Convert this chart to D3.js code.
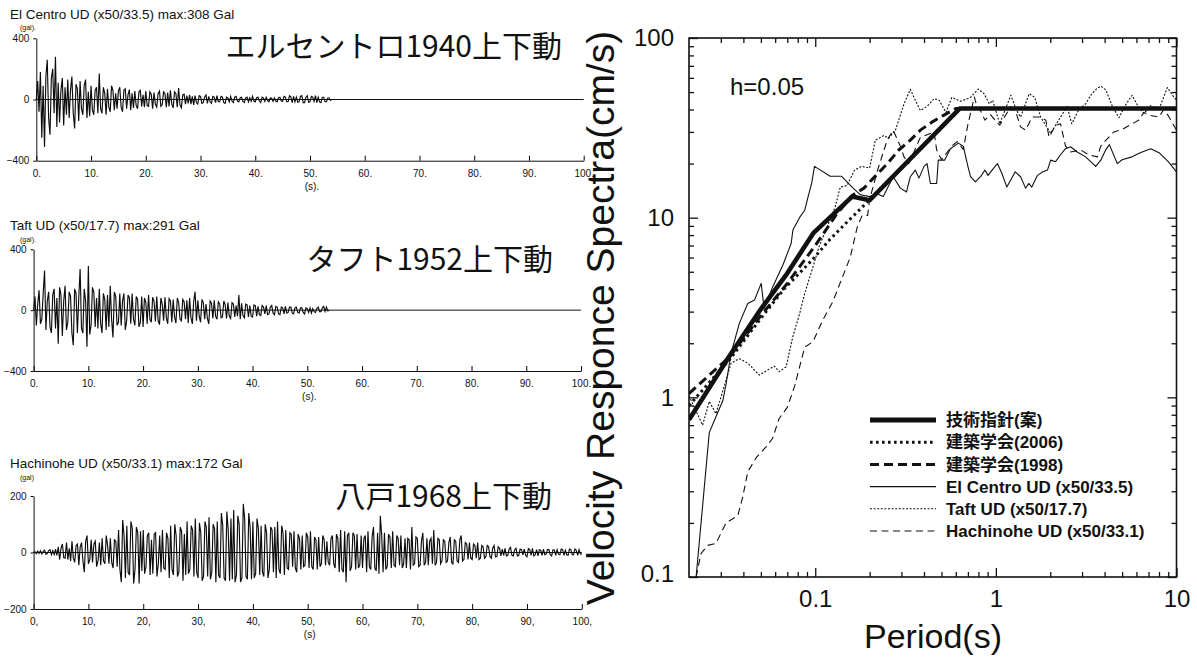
<!DOCTYPE html>
<html>
<head>
<meta charset="utf-8">
<script src="https://cdn.jsdelivr.net/npm/d3@7"></script>
<style>
body { margin: 0; background: #fff; }
svg text { font-family: "Liberation Sans", Arial, "Noto Sans CJK JP", sans-serif; fill: #111; }
</style>
</head>
<body>
<svg id="chart"></svg>
<script>
// page size
var width = 1197, height = 659;

// ---- acceleration records, sampled every 0.25 s (gal), one row = 4 s ----
var waveDt = 0.25;
var elcentroAcc = [
  0,120,-80,180,-250,90,-310,150,260,-120,-230,140,200,-90,280,-180,
  110,-150,60,140,-170,80,-100,130,-120,60,150,-90,-190,100,70,-140,
  120,-60,-100,90,130,-120,50,-110,90,-70,-100,60,80,-90,170,-60,
  -90,80,40,-100,70,-50,-80,90,60,-70,40,-60,55,80,-50,-80,
  60,70,-60,30,65,-70,40,-55,55,-40,-60,50,60,-45,30,-50,
  55,-40,-45,50,35,-60,45,-30,-50,40,55,-45,-35,50,40,-50,
  45,-45,60,-30,-55,50,40,-50,75,-35,-55,30,35,-30,25,-25,
  30,-30,20,-35,25,-20,-30,25,20,-25,-20,15,30,-25,20,-15,
  -25,20,15,-20,25,-15,-15,20,15,-20,-25,15,10,-15,20,-10,
  -20,15,20,-10,-15,12,15,-12,-20,10,15,-15,10,-12,20,-10,
  -15,12,15,-10,-20,15,10,-12,15,-8,-15,10,8,-12,10,-10,
  -15,12,15,-10,-12,20,15,-15,-15,25,18,-20,20,-15,15,-18,
  -15,20,25,-20,-20,15,25,-18,-15,20,15,-12,25,-20,15,-15,
  -20,15,15,-15,-15,10,10,-5,0];
var taftAcc = [
  0,90,-100,40,130,-90,-60,110,260,-130,60,120,-110,-150,100,140,
  -120,80,-220,150,100,-170,60,160,-130,-80,120,90,-150,-230,140,110,
  -150,80,270,-120,-150,140,60,-240,290,-160,-100,150,120,-110,80,-120,
  140,-90,-150,110,70,-130,100,-110,160,-60,-180,120,90,-100,-80,110,
  -100,60,110,-130,-70,100,80,-90,110,-60,-100,90,70,-110,-80,90,
  -110,80,50,-90,100,-60,-80,85,60,-75,90,-70,-95,80,40,-70,
  85,-50,-90,75,60,-80,70,-45,-85,80,50,-60,-70,70,55,-60,
  65,-85,80,-50,-90,60,120,-70,65,-40,-80,70,50,-60,40,-55,
  -90,60,45,-55,65,-40,-60,55,40,-50,-45,60,35,-55,50,-40,
  -55,50,40,-45,30,-40,100,-60,45,-35,-50,40,35,-45,30,-40,
  -45,35,30,-40,25,-30,-35,30,20,-25,30,-30,-25,20,30,-20,
  -30,25,20,-25,-30,20,15,-25,25,-20,-15,20,20,-20,-25,15,
  20,-15,-20,15,15,-15,-25,15,10,-15,15,-20,10,-10,-15,10,
  20,-10,-10,15,25,-8,20,-5,0];
var hachinoheAcc = [
  0,3,-4,5,-3,6,-5,4,8,-6,-4,7,10,-8,6,-7,
  12,-10,20,-25,15,30,-18,-20,35,-25,15,-30,40,-20,-35,25,
  30,-45,20,35,-30,-70,40,60,-40,-25,45,-35,30,40,-50,-30,
  35,-45,50,-30,-40,60,25,-40,50,-35,-55,45,40,-50,80,-60,
  -105,115,60,-90,95,-70,-80,110,85,-110,-60,90,70,-110,75,-65,
  80,-75,-50,60,70,-80,45,-75,65,70,-85,-40,60,-70,80,-55,
  -60,70,50,-90,95,-60,-80,100,60,-85,-70,90,75,-100,65,-80,
  110,-75,-60,95,80,-85,120,-70,-90,105,70,-100,-85,110,90,-85,
  125,-95,-70,100,85,-105,110,-80,-90,140,95,-90,-100,145,80,-100,
  120,-95,150,-105,-80,130,100,-105,-90,172,120,-85,-95,140,90,-95,
  110,-90,-75,120,85,-80,95,-70,-85,100,70,-90,-60,90,80,-70,
  90,-90,110,-60,-75,95,70,-80,80,-55,-60,70,65,-50,75,-55,
  -70,65,50,-60,60,-50,-45,70,55,-55,75,-50,-60,55,45,-60,
  55,-50,-40,60,45,-45,40,-35,-45,50,60,-40,-55,65,50,-70,
  80,-60,-70,75,-105,60,70,-65,-50,70,60,-60,65,-55,-45,60,
  -55,50,60,-70,75,-50,-60,55,90,-55,-65,70,-75,130,60,-70,
  70,-60,-50,65,55,-55,75,-45,-50,60,50,-45,60,-55,-40,50,
  -55,50,45,-60,90,-45,-40,55,50,-50,-45,40,70,-45,-35,50,
  -45,40,50,-40,80,-45,-35,50,45,-40,-30,45,40,-35,-30,35,
  55,-35,-40,45,40,-30,-35,45,60,-30,-25,35,30,-25,35,-20,
  -25,30,25,-20,35,-25,-20,25,20,-20,-15,25,20,-15,-20,15,
  25,-15,-15,20,15,-12,12,-10,15,-12,-10,12,18,-10,-12,10,
  15,-12,-10,12,10,-8,12,-10,-15,14,10,-10,15,-12,-8,10,
  -12,10,8,-10,12,-8,-6,10,10,-8,-12,10,8,-10,10,-6,
  -8,12,10,-10,8,-8,-10,12,10,-8,-8,12,8,-10,10,-6,
  -5];
var timeTicks = [0,10,20,30,40,50,60,70,80,90,100];

// ---- velocity response spectra, h=0.05: [period (s), Sv (cm/s)] ----
var guideSpec = [[0.02,0.75],[0.0335,1.7],[0.05,3.1],[0.07,4.9],[0.0975,8.2],[0.16,13.1],[0.2,12.5],[0.63,40.5],[10,40.5]];
var aij2006Spec = [[0.02,0.9],[0.0335,1.62],[0.05,2.75],[0.067,4.0],[0.0975,5.9],[0.121,7.6],[0.146,9.2],[0.178,11.2],[0.2,12.6],[0.63,40.5],[10,40.5]];
var aij1998Spec = [[0.02,1.05],[0.0335,1.68],[0.05,2.85],[0.07,4.3],[0.1,7.0],[0.13,10.3],[0.16,13.3],[0.186,14.6],[0.217,17.2],[0.253,20.2],[0.29,23.8],[0.336,27],[0.382,30.7],[0.44,33.9],[0.51,37],[0.6,40.5],[10,40.5]];
var elcentroSpec = [[0.0219,0.1],[0.0259,0.636],[0.0282,0.78],[0.0308,0.96],[0.0321,1.19],[0.0342,1.76],[0.038,2.58],[0.0423,3.33],[0.0461,3.48],[0.0502,4.31],[0.0521,3.13],[0.0582,4.13],[0.0662,5.45],[0.0736,7.2],[0.0752,8.53],[0.0818,10.0],[0.0875,11],[0.0913,13.1],[0.0955,15.5],[0.099,19.3],[0.121,17],[0.14,17],[0.162,14.6],[0.178,13.4],[0.2,13.1],[0.22,13.6],[0.238,13.1],[0.27,16.9],[0.296,14.6],[0.32,13.9],[0.336,16.9],[0.358,18.4],[0.375,16.6],[0.4,19.3],[0.416,20],[0.434,15.5],[0.47,15.5],[0.48,20.9],[0.52,20.9],[0.56,24.2],[0.62,26],[0.66,25],[0.7,19.3],[0.724,16.9],[0.77,15.8],[0.822,16.9],[0.87,18.4],[0.905,17.2],[0.965,18.7],[1.02,20],[1.08,17.6],[1.15,14.8],[1.28,18],[1.37,16.9],[1.46,14.6],[1.52,15.5],[1.58,14.8],[1.7,17.2],[1.82,18],[1.93,18.4],[2.01,20.9],[2.14,20.5],[2.28,22.4],[2.43,24.2],[2.59,24.8],[2.82,23.2],[3.14,21.8],[3.57,19.3],[3.81,20.9],[4.07,24],[4.25,25.5],[4.7,20],[5.0,21],[5.67,21.8],[6.3,23],[7.2,24.2],[8.0,23],[9.0,20.5],[10,18]];
var taftSpec = [[0.02,1.02],[0.0238,0.70],[0.0259,0.95],[0.0282,0.81],[0.0321,1.25],[0.0342,1.55],[0.038,1.64],[0.0423,1.55],[0.049,1.33],[0.0546,1.42],[0.0594,1.49],[0.0632,1.39],[0.069,1.48],[0.075,2.16],[0.082,2.93],[0.0874,3.78],[0.097,5.3],[0.105,6.9],[0.129,11.5],[0.1376,14.8],[0.15,15.1],[0.165,18.4],[0.18,19.3],[0.2,18.9],[0.215,27],[0.24,28.7],[0.255,27.7],[0.278,30.7],[0.31,43],[0.336,51.8],[0.358,45],[0.382,39.5],[0.416,41.6],[0.455,46],[0.485,45],[0.53,38.5],[0.57,46.7],[0.637,44.5],[0.724,46.7],[0.8,52],[0.86,49],[0.92,43],[0.96,45],[1.05,33.3],[1.21,48],[1.3,39.7],[1.37,36.3],[1.53,49],[1.64,46.7],[1.77,36.3],[2.01,29.5],[2.14,32.7],[2.48,41.6],[2.63,33.3],[2.87,39.7],[3.14,43],[3.4,49],[3.6,52],[3.81,54],[4.07,51.3],[4.4,42],[4.8,36],[5.2,42],[5.67,48],[6.1,42],[6.6,38],[7.2,42],[8.0,40],[8.9,53],[9.5,48],[10,45]];
var hachinoheSpec = [[0.0219,0.1],[0.0233,0.135],[0.0254,0.15],[0.0282,0.154],[0.0321,0.2],[0.0373,0.22],[0.0397,0.28],[0.0423,0.385],[0.047,0.46],[0.0534,0.53],[0.058,0.59],[0.063,0.76],[0.07,0.88],[0.0768,1.15],[0.0874,1.9],[0.0971,2.04],[0.11,2.69],[0.125,3.4],[0.156,6.0],[0.171,8.9],[0.182,10.3],[0.195,10.3],[0.2,12.6],[0.22,18],[0.25,27],[0.27,30.7],[0.296,25],[0.31,21.8],[0.33,20],[0.382,28],[0.455,30],[0.47,23.8],[0.5,21],[0.57,25],[0.61,26.5],[0.66,24],[0.7,33],[0.76,47],[0.79,40.5],[0.822,39.5],[0.87,34.9],[0.934,37.5],[0.99,34.9],[1.05,32.7],[1.206,41.5],[1.28,39.7],[1.37,32],[1.46,30.7],[1.59,36.3],[1.77,36.3],[1.89,34.9],[1.97,28],[2.14,32.7],[2.28,33.3],[2.43,25],[2.59,23.2],[2.95,23.8],[3.27,22.4],[3.64,21.8],[3.81,25],[4.07,27],[4.5,30],[5.0,31],[5.6,33],[6.2,35],[6.6,38.5],[7.2,37],[8,36.3],[8.5,40],[9.0,37],[10,30.7]];
var legendLabels = ["技術指針(案)", "建築学会(2006)", "建築学会(1998)", "El Centro UD (x50/33.5)", "Taft UD (x50/17.7)", "Hachinohe UD (x50/33.1)"];
var periodTicks = [0.1, 1, 10];
var svTicks = [0.1, 1, 10, 100];

var svg = d3.select("#chart")
    .attr("width", width)
    .attr("height", height)
    .attr("viewBox", [0, 0, width, height]);

// ---------- left: three time histories ----------
var panels = [
    {wave: elcentroAcc, lim: 400, title: "El Centro UD (x50/33.5) max:308 Gal", jp: "エルセントロ1940上下動",
     unit: "(gal).", sLab: "(s).", suffix: ".", left: 36.3, right: 583.7, top: 38.3, bottom: 160.7,
     titleY: 19, unitY: 30, jpX: 562, jpY: 57},
    {wave: taftAcc, lim: 400, title: "Taft UD (x50/17.7) max:291 Gal", jp: "タフト1952上下動",
     unit: "(gal).", sLab: "(s).", suffix: ".", left: 33.6, right: 581, top: 249.3, bottom: 371,
     titleY: 230, unitY: 242, jpX: 553, jpY: 270},
    {wave: hachinoheAcc, lim: 200, title: "Hachinohe UD (x50/33.1) max:172 Gal", jp: "八戸1968上下動",
     unit: "(gal)", sLab: "(s)", suffix: ",", left: 33.6, right: 581.8, top: 496, bottom: 609,
     titleY: 468, unitY: 480, jpX: 552, jpY: 507}
];

panels.forEach(function(p) {
    var x = d3.scaleLinear().domain([0, 100]).range([p.left, p.right]);
    var y = d3.scaleLinear().domain([-p.lim, p.lim]).range([p.bottom, p.top]);
    var g = svg.append("g");

    // zero line across the whole record length
    g.append("line")
        .attr("x1", x(0)).attr("x2", x(100))
        .attr("y1", y(0)).attr("y2", y(0))
        .attr("stroke", "#111").attr("stroke-width", 1);

    var line = d3.line()
        .x(function(d, i) { return x(i * waveDt); })
        .y(function(d) { return y(d); });

    g.append("path")
        .datum(p.wave)
        .attr("d", line)
        .attr("fill", "none")
        .attr("stroke", "#0d0d0d")
        .attr("stroke-width", 1.15);

    var xa = g.append("g")
        .attr("transform", "translate(0," + p.bottom + ")")
        .call(d3.axisBottom(x).tickValues(timeTicks).tickSize(-5).tickSizeOuter(0).tickPadding(9)
            .tickFormat(function(d) { return d + p.suffix; }));
    xa.selectAll("text").attr("font-size", 10).attr("font-family", "Liberation Sans, Arial").attr("fill", "#222");

    var ya = g.append("g")
        .attr("transform", "translate(" + p.left + ",0)")
        .call(d3.axisLeft(y).tickValues([-p.lim, 0, p.lim]).tickSize(3).tickSizeOuter(0).tickPadding(4));
    ya.selectAll("text").attr("font-size", 10).attr("font-family", "Liberation Sans, Arial").attr("fill", "#222");
    g.selectAll(".domain").attr("stroke", "#111");

    g.append("text").attr("x", 10).attr("y", p.titleY)
        .attr("font-size", 13.5).attr("fill", "#222").text(p.title);
    g.append("text").attr("x", 20).attr("y", p.unitY)
        .attr("font-size", 7).attr("fill", "#333").text(p.unit);
    g.append("text").attr("x", x(50) + 2).attr("y", p.bottom + 29)
        .attr("text-anchor", "middle").attr("font-size", 10).attr("fill", "#222").text(p.sLab);
    g.append("text").attr("x", p.jpX).attr("y", p.jpY)
        .attr("text-anchor", "end")
        .style("font-family", "'Noto Sans CJK JP', sans-serif")
        .attr("font-size", 30).attr("fill", "#1a1a1a").text(p.jp);
});

// ---------- right: velocity response spectra ----------
var xS = d3.scaleLog().domain([0.02, 10]).range([689, 1176.5]);
var yS = d3.scaleLog().domain([0.1, 100]).range([577, 38]);

var xMinor = [], yMinor = [];
[0.01, 0.1, 1].forEach(function(dec) {
    for (var k = 2; k <= 9; k++) {
        var v = +(dec * k).toPrecision(3);
        if (v > 0.0201 && v < 10) xMinor.push(v);
    }
});
[0.1, 1, 10].forEach(function(dec) {
    for (var k = 2; k <= 9; k++) yMinor.push(+(dec * k).toPrecision(3));
});

var rp = svg.append("g");

svg.append("clipPath").attr("id", "plotclip")
    .append("rect").attr("x", 689).attr("y", 38).attr("width", 1176.5 - 689).attr("height", 577 - 38);

function tickAxis(axis, vals, size, tr, label) {
    var a = rp.append("g").attr("transform", tr)
        .call(axis.tickValues(vals).tickSize(-size).tickSizeOuter(0)
            .tickPadding(label ? 13 : 0).tickFormat(label ? function(d) { return d; } : ""));
    a.select(".domain").remove();
    a.selectAll("line").attr("stroke", "#111").attr("stroke-width", 1.3);
    return a;
}
var xb = tickAxis(d3.axisBottom(xS), periodTicks, 9, "translate(0,577)", true);
tickAxis(d3.axisBottom(xS), xMinor, 5, "translate(0,577)", false);
tickAxis(d3.axisTop(xS), periodTicks, 9, "translate(0,38)", false);
tickAxis(d3.axisTop(xS), xMinor, 5, "translate(0,38)", false);
var yl = tickAxis(d3.axisLeft(yS), svTicks, 9, "translate(689,0)", true);
tickAxis(d3.axisLeft(yS), yMinor, 5, "translate(689,0)", false);
tickAxis(d3.axisRight(yS), svTicks, 9, "translate(1176.5,0)", false);
tickAxis(d3.axisRight(yS), yMinor, 5, "translate(1176.5,0)", false);
xb.selectAll("text").attr("font-size", 24).attr("font-family", "Liberation Sans, Arial").attr("fill", "#111");
yl.selectAll("text").attr("font-size", 24).attr("font-family", "Liberation Sans, Arial").attr("fill", "#111").attr("dx", -2);
yl.select(".tick text").attr("dy", "0.2em");

rp.append("rect")
    .attr("x", 689).attr("y", 38)
    .attr("width", 1176.5 - 689).attr("height", 577 - 38)
    .attr("fill", "none").attr("stroke", "#111").attr("stroke-width", 1.6);

var specLine = d3.line()
    .x(function(d) { return xS(d[0]); })
    .y(function(d) { return yS(d[1]); });

// style for each curve, same order as legendLabels
var specStyles = [
    {data: guideSpec, w: 4.6, dash: null},
    {data: aij2006Spec, w: 3, dash: "2.6,3.4"},
    {data: aij1998Spec, w: 3, dash: "9,5"},
    {data: elcentroSpec, w: 1.1, dash: null},
    {data: taftSpec, w: 1.1, dash: "2,1.6"},
    {data: hachinoheSpec, w: 1.1, dash: "7,4.5"}
];

var curves = rp.append("g").attr("clip-path", "url(#plotclip)");
[3, 4, 5, 2, 1, 0].forEach(function(i) {
    var s = specStyles[i];
    curves.append("path")
        .datum(s.data)
        .attr("d", specLine)
        .attr("fill", "none")
        .attr("stroke", "#111")
        .attr("stroke-width", s.w)
        .attr("stroke-linejoin", "round")
        .attr("stroke-dasharray", s.dash);
});

rp.append("text").attr("x", 730).attr("y", 95)
    .attr("font-size", 24).attr("fill", "#111").text("h=0.05");

// legend
var legend = rp.append("g");
legendLabels.forEach(function(name, i) {
    var ly = 420 + i * 22.2;
    var s = specStyles[i];
    legend.append("line")
        .attr("x1", 870).attr("x2", 936).attr("y1", ly).attr("y2", ly)
        .attr("stroke", "#111").attr("stroke-width", s.w === 4.6 ? 5 : s.w)
        .attr("stroke-dasharray", s.dash);
    legend.append("text")
        .attr("x", 946).attr("y", ly).attr("dy", "0.36em")
        .attr("font-size", 17).attr("font-weight", "bold")
        .attr("fill", "#111")
        .text(name);
});

rp.append("text").attr("x", 933).attr("y", 648)
    .attr("text-anchor", "middle").attr("font-size", 34).attr("fill", "#111").text("Period(s)");

svg.append("text")
    .attr("transform", "translate(614,318) rotate(-90)")
    .attr("text-anchor", "middle")
    .attr("font-size", 39)
    .attr("fill", "#111")
    .text("Velocity Responce Spectra(cm/s)");
</script>
</body>
</html>
